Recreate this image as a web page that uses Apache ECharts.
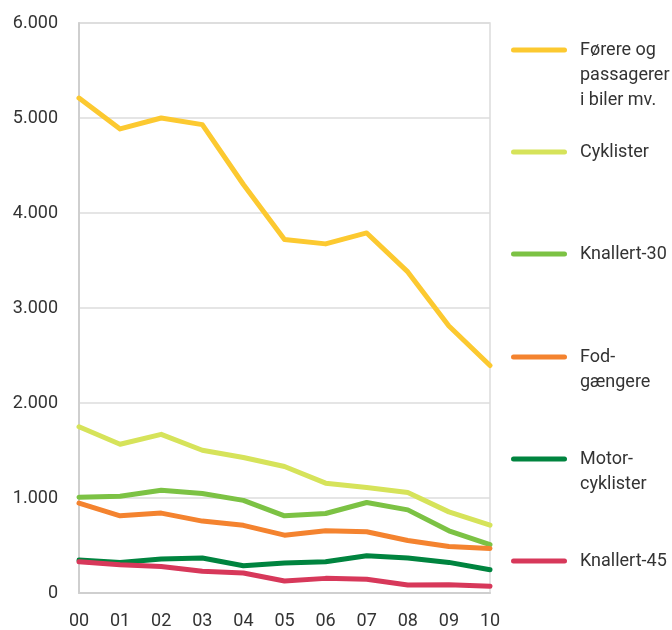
<!DOCTYPE html>
<html>
<head>
<meta charset="utf-8">
<script src="https://cdn.jsdelivr.net/npm/echarts@6/dist/echarts.min.js"></script>
<style>
  html, body { margin: 0; padding: 0; background: #fff; }
  #chart { width: 672px; height: 630px; }
</style>
</head>
<body>
<div id="chart"></div>
<script>
// Years (two-digit) on the category axis
const years = ['00', '01', '02', '03', '04', '05', '06', '07', '08', '09', '10'];

// Series names as shown in the legend (line breaks included)
const seriesNames = [
  'Førere og\npassagerer\ni biler mv.',
  'Cyklister',
  'Knallert-30',
  'Fod-\ngængere',
  'Motor-\ncyklister',
  'Knallert-45'
];

const seriesColors = ['#fcc930', '#d6e35a', '#7cc244', '#f4832f', '#00843f', '#d7385a'];

// Counts per year
const forere        = [5210, 4885, 5000, 4930, 4300, 3720, 3675, 3790, 3380, 2810, 2395];
const cyklister     = [1750, 1566, 1670, 1503, 1426, 1331, 1156, 1110, 1058, 854, 714];
const knallert30    = [1009, 1019, 1082, 1047, 975, 812, 837, 953, 875, 655, 508];
const fodgaengere   = [946, 812, 841, 757, 712, 609, 655, 644, 553, 490, 469];
const motorcyklister = [347, 322, 357, 368, 287, 315, 329, 392, 368, 322, 245];
const knallert45    = [329, 298, 280, 228, 210, 126, 154, 144, 84, 88, 70];

const seriesData = [forere, cyklister, knallert30, fodgaengere, motorcyklister, knallert45];

// Y-axis ticks
const yMin = 0, yMax = 6000, yStep = 1000;

const FONT = "Roboto, sans-serif";
const TEXT = '#333333';
const LINE_H = 25;

// Legend entries stacked on the right; icon centre y per entry
const legendIconY = [50, 152, 254, 357, 459, 561];

// Each entry gets its own legend so it can sit at its own height.
// The label is centred on the icon, so blank lines are put in front
// of multi-line labels to bring their first line level with the icon.
function legendFor(i) {
  const n = seriesNames[i].split('\n').length;
  const boxH = (2 * n - 1) * LINE_H;
  return {
    data: [seriesNames[i]],
    orient: 'vertical',
    left: 511,
    top: legendIconY[i] - boxH / 2,
    padding: 0,
    itemWidth: 56,
    itemHeight: 5,
    itemGap: 0,
    icon: 'path://M2.5,0 H53.5 A2.5,2.5 0 0 1 53.5,5 H2.5 A2.5,2.5 0 0 1 2.5,0 Z',
    selectedMode: false,
    formatter: name => '\n'.repeat(n - 1) + name,
    textStyle: {
      fontFamily: FONT,
      fontSize: 18,
      color: TEXT,
      lineHeight: LINE_H,
      padding: [0, 0, 0, 8]
    }
  };
}

const chart = echarts.init(document.getElementById('chart'), null, { renderer: 'canvas' });

chart.setOption({
  animation: false,
  backgroundColor: '#ffffff',
  color: seriesColors,
  grid: {
    left: 79, right: 182, top: 23, bottom: 36,
    show: true,
    borderColor: '#dcdcdc',
    borderWidth: 1.5
  },
  legend: seriesNames.map((_, i) => legendFor(i)),
  xAxis: {
    type: 'category',
    data: years,
    boundaryGap: false,
    axisLine: { show: true, lineStyle: { color: '#cfcfcf', width: 2 } },
    axisTick: { show: false },
    splitLine: { show: false },
    axisLabel: {
      fontFamily: FONT,
      fontSize: 18,
      color: TEXT,
      margin: 19
    }
  },
  yAxis: {
    type: 'value',
    min: yMin,
    max: yMax,
    interval: yStep,
    axisLine: { show: true, lineStyle: { color: '#cfcfcf', width: 2 } },
    axisTick: { show: false },
    splitLine: { show: true, lineStyle: { color: '#dcdcdc', width: 1.5 } },
    axisLabel: {
      fontFamily: FONT,
      fontSize: 18,
      color: TEXT,
      margin: 21,
      formatter: v => v === 0 ? '0' : String(v).replace(/\B(?=(\d{3})+(?!\d))/g, '.')
    }
  },
  series: seriesNames.map((name, i) => ({
    name: name,
    type: 'line',
    data: seriesData[i],
    showSymbol: false,
    symbol: 'none',
    lineStyle: { width: 5, color: seriesColors[i], cap: 'round', join: 'round' },
    itemStyle: { color: seriesColors[i] }
  }))
});
</script>
</body>
</html>
